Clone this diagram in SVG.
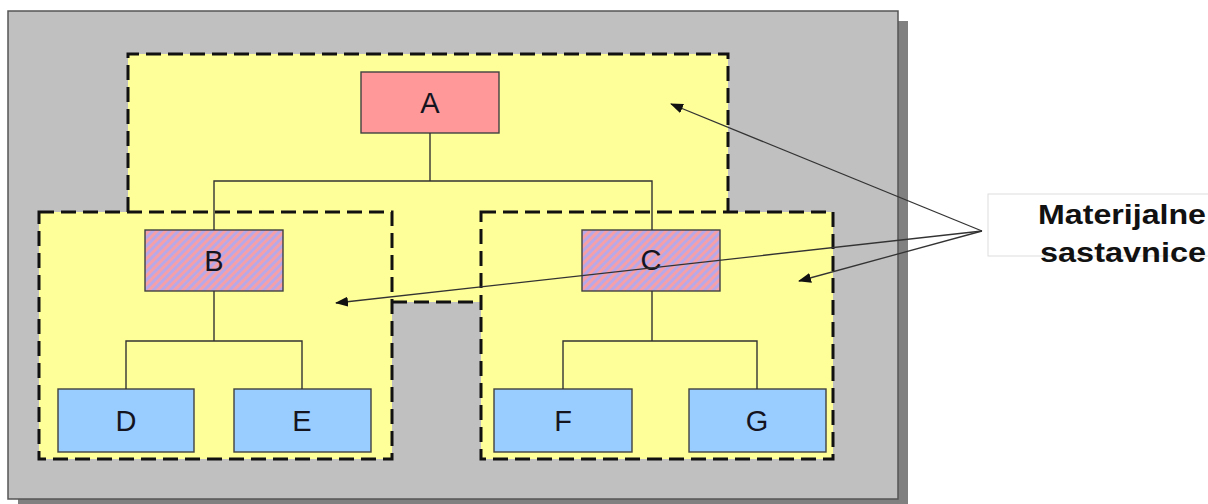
<svg xmlns="http://www.w3.org/2000/svg" width="1208" height="504" viewBox="0 0 1208 504">
<style>
.node{stroke:#404040;stroke-width:1.4}
.a{fill:#ff9999}
.h{fill:url(#hatch)}
.b{fill:#99ccff}
.lbl{font-family:"Liberation Sans",Arial,sans-serif;font-size:29px;fill:#14141f;text-anchor:middle}
.dash{fill:none;stroke:#111;stroke-width:3;stroke-dasharray:15 7}
.conn{fill:none;stroke:#333;stroke-width:1.4}
.arr{fill:none;stroke:#333;stroke-width:1.3;marker-end:url(#ah)}
.big{font-family:"Liberation Sans",Arial,sans-serif;font-weight:bold;font-size:28px;fill:#111;text-anchor:middle}
</style>
<defs>
<pattern id="hatch" width="6" height="6" patternUnits="userSpaceOnUse" patternTransform="rotate(45)">
<rect width="6" height="6" fill="#f5a0a8"/>
<rect width="3" height="6" fill="#b8a8e8"/>
</pattern>
<marker id="ah" markerWidth="13" markerHeight="10" refX="12" refY="5" orient="auto" markerUnits="userSpaceOnUse">
<path d="M0,0 L13,5 L0,10 Z" fill="#111"/>
</marker>
</defs>
<rect x="18" y="21" width="890" height="488" fill="#808080"/>
<rect x="8" y="11" width="890" height="488" fill="#c0c0c0" stroke="#555" stroke-width="1.5"/>
<g id="regions">
<polygon points="128,54 728,54 728,212 481,212 481,302 392,302 392,212 128,212" fill="#ffff99"/>
<rect x="39" y="212" width="353" height="247" fill="#ffff99"/>
<rect x="481" y="212" width="352" height="247" fill="#ffff99"/>
<polyline class="dash" points="128,212 128,54 728,54 728,212"/>
<line class="dash" x1="392" y1="302" x2="481" y2="302"/>
<rect class="dash" x="39" y="212" width="353" height="247"/>
<rect class="dash" x="481" y="212" width="352" height="247"/>
</g>
<g id="A"><rect class="node a" x="361" y="72" width="138" height="61"/><text class="lbl" x="430" y="113">A</text></g>
<g id="B"><rect class="node h" x="145" y="230" width="138" height="61"/><text class="lbl" x="214" y="271">B</text></g>
<g id="C"><rect class="node h" x="582" y="230" width="138" height="61"/><text class="lbl" x="651" y="270">C</text></g>
<g id="D"><rect class="node b" x="58" y="389" width="136" height="63"/><text class="lbl" x="126" y="431">D</text></g>
<g id="E"><rect class="node b" x="234" y="389" width="137" height="63"/><text class="lbl" x="302" y="431">E</text></g>
<g id="F"><rect class="node b" x="494" y="389" width="138" height="63"/><text class="lbl" x="563" y="431">F</text></g>
<g id="G"><rect class="node b" x="689" y="389" width="137" height="63"/><text class="lbl" x="757" y="431">G</text></g>
<g id="label">
<rect x="988" y="194" width="230" height="62" fill="#fff" stroke="#ddd" stroke-width="1"/>
<text class="big" x="1122" y="224" textLength="168" lengthAdjust="spacingAndGlyphs">Materijalne</text>
<text class="big" x="1123" y="262" textLength="166" lengthAdjust="spacingAndGlyphs">sastavnice</text>
</g>
<g id="connectors">
<polyline class="conn" points="430,133 430,181"/>
<polyline class="conn" points="214,230 214,181 652,181 652,230"/>
<polyline class="conn" points="214,291 214,341"/>
<polyline class="conn" points="126,389 126,341 302,341 302,389"/>
<polyline class="conn" points="652,291 652,341"/>
<polyline class="conn" points="563,389 563,341 757,341 757,389"/>
<line class="arr" x1="982" y1="231" x2="671" y2="104"/>
<line class="arr" x1="982" y1="231" x2="336" y2="303"/>
<line class="arr" x1="982" y1="231" x2="799" y2="281"/>
</g>
</svg>
